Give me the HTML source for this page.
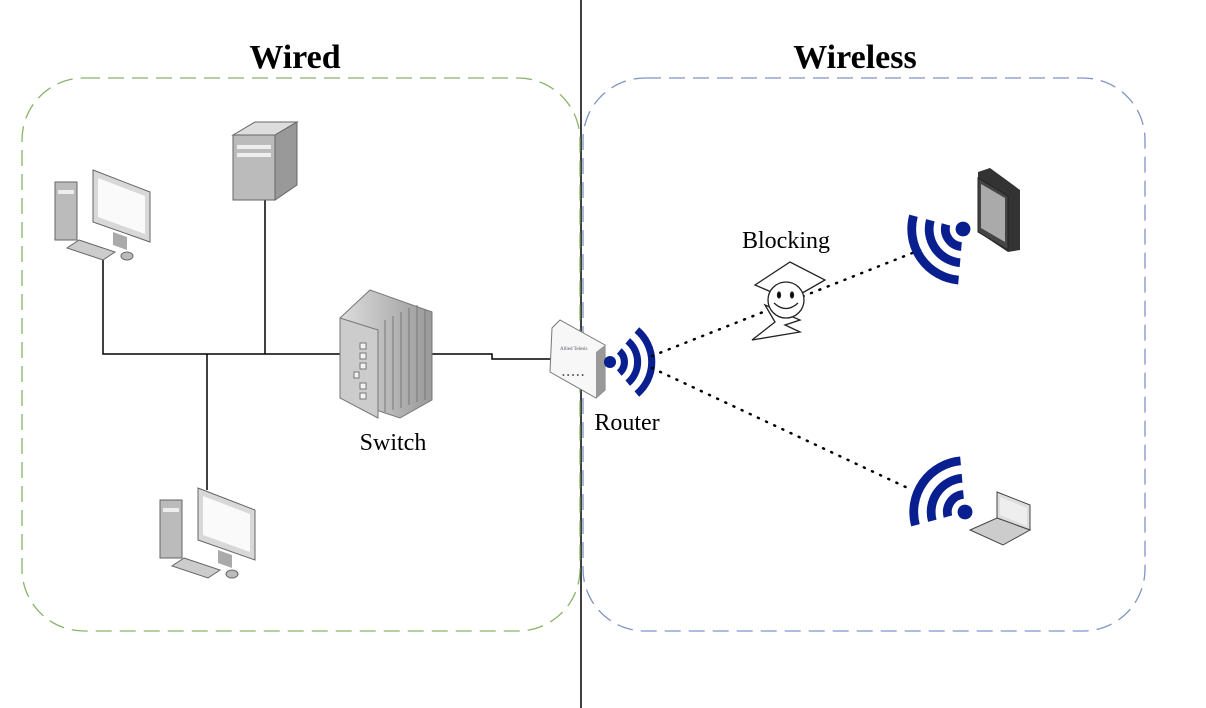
<!DOCTYPE html>
<html><head><style>body{margin:0;background:#fff}svg{display:block}</style></head><body>
<svg width="1206" height="708" viewBox="0 0 1206 708" xmlns="http://www.w3.org/2000/svg" font-family="Liberation Serif, serif">
<defs>
<linearGradient id="g1" x1="0" x2="1"><stop offset="0" stop-color="#ddd"/><stop offset="1" stop-color="#999"/></linearGradient>
<g id="pc">
<rect x="0" y="12" width="22" height="58" fill="#bbb" stroke="#666"/>
<rect x="3" y="20" width="16" height="4" fill="#eee"/>
<polygon points="38,0 95,22 95,72 38,52" fill="#d8d8d8" stroke="#666"/>
<polygon points="43,8 90,26 90,64 43,47" fill="#fafafa"/>
<polygon points="58,62 72,67 72,80 58,75" fill="#aaa"/>
<polygon points="24,70 60,82 48,90 12,78" fill="#ccc" stroke="#666"/>
<ellipse cx="72" cy="86" rx="6" ry="4" fill="#bbb" stroke="#666"/>
</g>
<g id="wv" fill="none" stroke="#0a1f8f" stroke-width="6.5">
<path d="M8.4,-10 A13,13 0 0 1 8.4,10"/>
<path d="M16.1,-19.2 A25,25 0 0 1 16.1,19.2"/>
<path d="M24.4,-29.1 A38,38 0 0 1 24.4,29.1"/>
<circle cx="0" cy="0" r="5.5" fill="#0a1f8f" stroke="none"/>
</g>
</defs>
<line x1="581" y1="0" x2="581" y2="708" stroke="#000" stroke-width="1.5"/>
<rect x="22" y="78" width="558" height="553" rx="62" fill="none" stroke="#8ab36a" stroke-width="1.3" stroke-dasharray="16,8"/>
<rect x="583" y="78" width="562" height="553" rx="62" fill="none" stroke="#7f93c7" stroke-width="1.3" stroke-dasharray="16,8"/>
<text x="295" y="68" font-size="34" font-weight="bold" text-anchor="middle">Wired</text>
<text x="855" y="68" font-size="34" font-weight="bold" text-anchor="middle">Wireless</text>
<g stroke="#000" stroke-width="1.5" fill="none">
<path d="M103,258 V354 H342"/><path d="M265,198 V354"/><path d="M207,354 V490"/>
<path d="M432,354 H492 V359 H552"/>
</g>
<use href="#pc" x="55" y="170"/>
<use href="#pc" x="160" y="488"/>
<g>
<rect x="233" y="135" width="42" height="65" fill="#bbb" stroke="#666"/>
<polygon points="233,135 255,122 297,122 275,135" fill="#ddd" stroke="#666"/>
<polygon points="275,135 297,122 297,185 275,200" fill="#999" stroke="#666"/>
<rect x="237" y="145" width="34" height="4" fill="#eee"/><rect x="237" y="153" width="34" height="4" fill="#eee"/>
</g>
<g stroke="#777">
<polygon points="340,318 370,290 432,312 432,400 400,418 340,398" fill="url(#g1)"/>
<polygon points="340,318 378,330 378,418 340,398" fill="#ccc"/>
<g fill="#f4f4f4"><rect x="360" y="343" width="6" height="6"/><rect x="360" y="353" width="6" height="6"/><rect x="360" y="363" width="6" height="6"/><rect x="354" y="372" width="5" height="6"/><rect x="360" y="383" width="6" height="6"/><rect x="360" y="393" width="6" height="6"/></g>
<path d="M385,320 V412 M393,316 V410 M401,312 V408 M409,308 V405 M417,305 V402 M425,309 V400" fill="none"/>
</g>
<text x="393" y="450" font-size="24" text-anchor="middle">Switch</text>
<g>
<polygon points="552,328 560,320 605,345 605,390 596,398 550,372" fill="#f7f7f7" stroke="#777"/>
<polygon points="596,352 605,345 605,390 596,398" fill="#999"/>
<text x="560" y="350" font-size="5" fill="#556">Allied Telesis</text>
<text x="562" y="378" font-size="8" fill="#555">• • • • •</text>
</g>
<use href="#wv" transform="translate(610,362) scale(1.1)"/>
<text x="627" y="430" font-size="24" text-anchor="middle">Router</text>
<g stroke="#000" stroke-width="2.5" stroke-dasharray="1,8" stroke-linecap="round">
<line x1="652" y1="356" x2="920" y2="250"/>
<line x1="652" y1="368" x2="912" y2="490"/>
</g>
<text x="786" y="248" font-size="24" text-anchor="middle">Blocking</text>
<g stroke="#222" stroke-width="1.3" fill="#fff">
<polygon points="755,285 790,262 825,280 790,300"/>
<polygon points="765,305 800,320 785,325 800,332 752,340 775,322"/>
<circle cx="786" cy="300" r="18" fill="#fff"/>
<ellipse cx="779" cy="295" rx="1.5" ry="3" fill="#000"/><ellipse cx="792" cy="295" rx="1.5" ry="3" fill="#000"/>
<path d="M774,303 Q786,314 798,303" fill="none"/>
</g>
<use href="#wv" transform="translate(963,229) rotate(145) scale(1.35)"/>
<use href="#wv" transform="translate(965,512) rotate(215) scale(1.35)"/>
<g>
<polygon points="978,172 990,168 1020,190 1020,250 1008,252 978,232" fill="#333"/>
<polygon points="978,178 1008,196 1008,250 978,232" fill="#444" stroke="#222"/>
<polygon points="981,184 1005,198 1005,242 981,228" fill="#aaa"/>
</g>
<g>
<polygon points="997,492 1030,505 1030,530 997,518" fill="#ddd" stroke="#444"/>
<polygon points="1000,497 1027,508 1027,526 1000,515" fill="#eee"/>
<polygon points="970,530 997,518 1030,530 1003,545" fill="#ccc" stroke="#444"/>
</g>
</svg>
</body></html>
